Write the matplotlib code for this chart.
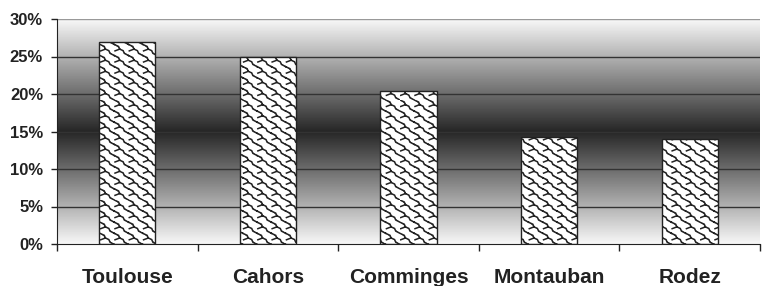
import numpy as np
import matplotlib
matplotlib.use("Agg")
import matplotlib.pyplot as plt
import matplotlib.hatch as mhatch
from matplotlib.path import Path
from matplotlib.ticker import FuncFormatter, MultipleLocator

categories = ["Toulouse", "Cahors", "Comminges", "Montauban", "Rodez"]
values = [27.0, 25.0, 20.4, 14.3, 14.0]


class ScaleHatch(mhatch.HatchPatternBase):
    """Wavy diagonal 'scale' fill pattern."""
    curve = [(0.0, 1.0), (0.3, 0.82), (0.38, 0.58), (0.62, 0.44), (0.7, 0.2), (1.0, 0.0)]
    conn = [(0.38, 0.58), (0.05, 0.42)]

    def __init__(self, hatch, density):
        self.nx = 7 if 'x' in hatch else 0
        self.ny = 9
        self.per = len(self.curve) + len(self.conn)
        self.num_vertices = self.nx * self.ny * self.per

    def set_vertices_and_codes(self, vertices, codes):
        w, h = 1.0 / self.nx, 1.0 / self.ny
        k = 0
        for i in range(self.nx):
            for j in range(self.ny):
                for seg in (self.curve, self.conn):
                    for t, (px, py) in enumerate(seg):
                        vertices[k] = (i * w + px * w, j * h + py * h)
                        codes[k] = Path.MOVETO if t == 0 else Path.LINETO
                        k += 1


mhatch._hatch_types = [ScaleHatch]

plt.rcParams['font.family'] = ['Liberation Sans', 'DejaVu Sans']
plt.rcParams['hatch.linewidth'] = 1.1
plt.rcParams['hatch.color'] = '#111111'

fig = plt.figure(figsize=(7.62, 2.86), dpi=100)
ax = fig.add_axes([57/762, 1 - 244/286, (760-57)/762, (244-19)/286])

x = np.arange(len(categories))
ax.set_xlim(-0.5, len(categories) - 0.5)
ax.set_ylim(0, 30)

# background gradient, darkest at 15%
yy = np.linspace(0, 30, 300)
g = 0.97 - 0.82 * (1 - np.abs(yy - 15) / 15)
img = np.repeat(g[:, None], 2, axis=1)
ax.imshow(img, extent=(-0.5, len(categories) - 0.5, 0, 30), origin='lower',
          cmap='gray', vmin=0, vmax=1, aspect='auto', zorder=0, interpolation='bilinear')

for yv in range(5, 31, 5):
    ax.axhline(yv, color='#333333' if yv < 30 else '#999999', lw=1.0, zorder=1)

ax.bar(x, values, width=0.4, color='white', edgecolor='#222222', linewidth=1.0,
       hatch='x', zorder=2)

ax.yaxis.set_major_locator(MultipleLocator(5))
ax.yaxis.set_major_formatter(FuncFormatter(lambda v, p: f"{int(v)}%"))
ax.set_xticks(np.arange(len(categories) + 1) - 0.5, minor=False)
ax.set_xticklabels([])
ax.set_xticks(x, minor=True)
ax.set_xticklabels(categories, minor=True)
ax.tick_params(axis='x', which='minor', length=0, pad=17, labelsize=15)
ax.tick_params(axis='x', which='major', length=5, width=1, color='#222222', direction='out')
ax.tick_params(axis='y', length=4, width=1, direction='out', labelsize=12, pad=6,
               color='#222222')
for lbl in ax.get_xticklabels(minor=True) + ax.get_yticklabels():
    lbl.set_fontweight('bold')
    lbl.set_color('#222222')

for s in ['top', 'right']:
    ax.spines[s].set_visible(False)
ax.spines['left'].set_color('#222222')
ax.spines['bottom'].set_color('#222222')

fig.savefig('out.png', dpi=100)
